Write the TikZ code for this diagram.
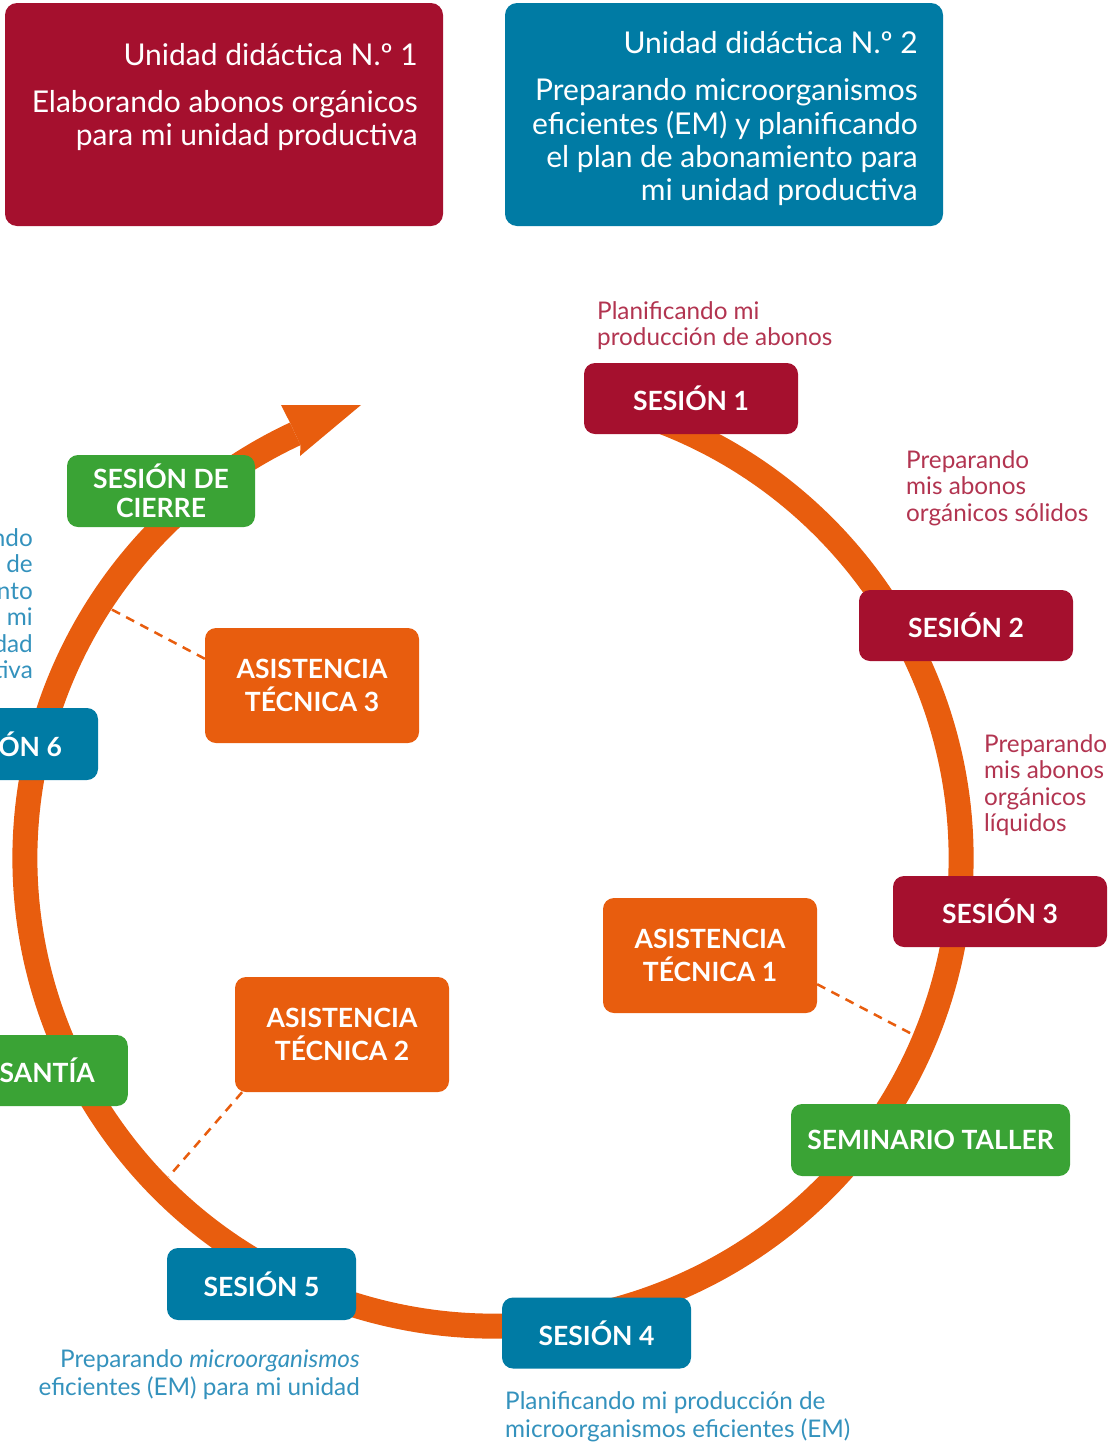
\documentclass[tikz,border=0pt]{standalone}
\usepackage{fontspec}
\setmainfont{Lato}
\definecolor{crim}{RGB}{165,16,46}
\definecolor{tealb}{RGB}{0,123,164}
\definecolor{orng}{RGB}{232,93,14}
\definecolor{grn}{RGB}{58,163,53}
\definecolor{crimtxt}{RGB}{178,52,80}
\definecolor{tealtxt}{RGB}{52,146,189}
\newcommand{\lblfont}{\bfseries\fontsize{26.5}{32.5}\selectfont}
\newcommand{\annfont}{\fontsize{24.3}{26.5}\selectfont}
\newcommand{\hdrfont}{\fontsize{30}{33}\selectfont}
\tikzset{
  sbox/.style={rounded corners=11pt, inner sep=0pt, minimum height=71pt, text=white, font=\lblfont, align=center},
  hbox/.style={rounded corners=12pt, inner sep=0pt},
  hdrtext/.style={anchor=north east, inner sep=0pt, text=white, font=\hdrfont, align=right},
  ann/.style={inner sep=0pt, font=\annfont},
  dashline/.style={orng, line width=2.5pt, dash pattern=on 9pt off 7pt},
  ring/.style={orng, line width=25pt},
}
\begin{document}
\begin{tikzpicture}[x=1pt,y=1pt]
\useasboundingbox (0,0) rectangle (1110,-1443);
\begin{scope}
\clip (0,0) rectangle (1110,-1443);
% header boxes
\node[hbox, fill=crim, minimum width=438pt, minimum height=223pt] (h1) at (224,-114.5) {};
\node[hbox, fill=tealb, minimum width=438pt, minimum height=223pt] (h2) at (724,-114.5) {};
\node[hdrtext] (h1t) at (418,-41.9) {\strut Unidad didáctica N.º 1};
\node[hdrtext] (h1b) at (418,-88.9) {\strut Elaborando abonos orgánicos\\para mi unidad productiva};
\node[hdrtext] (h2t) at (918,-29.9) {\strut Unidad didáctica N.º 2};
\node[hdrtext] (h2b) at (918,-76.9) {\strut Preparando microorganismos\\eficientes (EM) y planificando\\el plan de abonamiento para\\mi unidad productiva};

% ring with arrow
\coordinate (c) at (493,-858);
\draw[ring] ([shift={(75:468)}]c) arc[start angle=75, end angle=-245, radius=468];
\fill[orng] ([shift={(115:480.5)}]c) -- (281,-405) -- (361,-405) -- (300,-456) -- ([shift={(115:455.5)}]c) -- cycle;
\coordinate (r1) at ([shift={(-22.8:455)}]c);
\coordinate (r2) at ([shift={(224.5:455)}]c);
\coordinate (r3) at ([shift={(146.9:455)}]c);

% session boxes
\node[sbox, fill=crim, minimum width=214pt] (s1) at (691,-398.5) {SESIÓN 1};
\node[sbox, fill=crim, minimum width=214pt] (s2) at (966,-625.5) {SESIÓN 2};
\node[sbox, fill=crim, minimum width=214pt] (s3) at (1000,-911.5) {SESIÓN 3};
\node[sbox, fill=grn, minimum width=279pt, minimum height=72pt] (sem) at (930.5,-1140) {SEMINARIO TALLER};
\node[sbox, fill=tealb, minimum width=189pt] (s4) at (596.5,-1333) {SESIÓN 4};
\node[sbox, fill=tealb, minimum width=189pt, minimum height=72pt] (s5) at (261.5,-1284) {SESIÓN 5};
\node[sbox, fill=grn, anchor=east, inner xsep=33pt] (pas) at (128,-1070.5) {PASANTÍA};
\node[sbox, fill=tealb, minimum width=188pt, minimum height=72pt] (s6) at (4,-744) {SESIÓN 6};
\node[sbox, fill=grn, minimum width=188pt, minimum height=72pt, font=\bfseries\fontsize{26.5}{29.5}\selectfont] (cie) at (161,-491) {SESIÓN DE\\CIERRE};
\node[sbox, fill=orng, minimum width=214pt, minimum height=115pt] (at1) at (710,-955.5) {ASISTENCIA\\TÉCNICA 1};
\node[sbox, fill=orng, minimum width=214pt, minimum height=115pt] (at2) at (342,-1034.5) {ASISTENCIA\\TÉCNICA 2};
\node[sbox, fill=orng, minimum width=214pt, minimum height=115pt] (at3) at (312,-685.5) {ASISTENCIA\\TÉCNICA 3};

% dashed connectors
\draw[dashline] (at1.-15.4) -- (r1);
\draw[dashline] (at2.210.4) -- (r2);
\draw[dashline] (at3.166.2) -- (r3);

% annotations
\node[ann, text=crimtxt, anchor=north west, align=left] (a1) at (597,-300.5) {\strut Planificando mi\\producción de abonos};
\node[ann, text=crimtxt, anchor=north west, align=left] (a2) at (906,-449.5) {\strut Preparando\\mis abonos\\orgánicos sólidos};
\node[ann, text=crimtxt, anchor=north west, align=left] (a3) at (984,-733.5) {\strut Preparando\\mis abonos\\orgánicos\\líquidos};
\node[ann, text=tealtxt, anchor=north west, align=left] (a4) at (505,-1391) {\strut Planificando mi producción de\\microorganismos eficientes (EM)};
\node[ann, text=tealtxt, anchor=north east, align=right] (a5) at (360,-1348.5) {\strut Preparando \textit{microorganismos}\\eficientes (EM) para mi unidad};
\node[ann, text=tealtxt, anchor=north east, align=right] (a6) at (33,-527.5) {\strut Planificando\\el plan de\\abonamiento\\para mi\\unidad\\productiva};
\end{scope}
\end{tikzpicture}
\end{document}
